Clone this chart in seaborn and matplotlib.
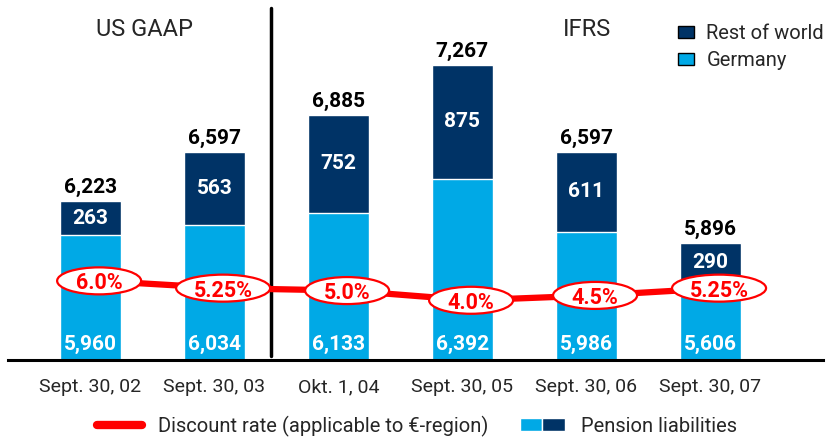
import numpy as np
import pandas as pd
import seaborn as sns
import matplotlib.pyplot as plt
from matplotlib.patches import Patch, Ellipse
from matplotlib.lines import Line2D
from matplotlib.legend_handler import HandlerTuple
import matplotlib.transforms as mtransforms

# Data
dates = ['Sept. 30, 02', 'Sept. 30, 03', 'Okt. 1, 04', 'Sept. 30, 05', 'Sept. 30, 06', 'Sept. 30, 07']
germany = [5960, 6034, 6133, 6392, 5986, 5606]
rest_of_world = [263, 563, 752, 875, 611, 290]
discount_rate = [6.0, 5.25, 5.0, 4.0, 4.5, 5.25]
rate_labels = ['6.0%', '5.25%', '5.0%', '4.0%', '4.5%', '5.25%']

light = '#00A9E6'
dark = '#003366'
red = '#FF0000'

df = pd.DataFrame({'date': dates, 'germany': germany, 'rest': rest_of_world})
df['total'] = df['germany'] + df['rest']

sns.set_style('white')
plt.rcParams['font.family'] = ['Roboto', 'DejaVu Sans']

fig = plt.figure(figsize=(8.34, 4.38), dpi=100)
ax = fig.add_axes([0.0096, 0.178, 0.977, 0.822])

# Stacked bars: total (dark) with Germany (light) drawn over it
sns.barplot(data=df, x='date', y='total', color=dark, saturation=1, width=0.49, ax=ax)
sns.barplot(data=df, x='date', y='germany', color=light, saturation=1, width=0.49, ax=ax)

ax.set_ylim(5000, 7767)
ax.set_xlim(-0.665, 5.907)
ax.set_xlabel('')
ax.set_ylabel('')
ax.set_yticks([])
for s in ['top', 'right', 'left']:
    ax.spines[s].set_visible(False)
ax.spines['bottom'].set_color('black')
ax.spines['bottom'].set_linewidth(2.2)
ax.tick_params(axis='x', length=0, pad=13, labelsize=14)

# Value labels
bottom_trans = mtransforms.blended_transform_factory(ax.transData, ax.transAxes)
for i, row in df.iterrows():
    ax.annotate(f"{row['total']:,}", (i, row['total']), xytext=(0, 3), textcoords='offset points',
                ha='center', va='bottom', fontsize=15, fontweight='bold', color='black')
    ax.text(i, (row['germany'] + row['total']) / 2, f"{row['rest']:,}", ha='center', va='center',
            fontsize=15, fontweight='bold', color='white')
    ax.text(i, 0.042, f"{row['germany']:,}", transform=bottom_trans, ha='center', va='center',
            fontsize=15, fontweight='bold', color='white')

# US GAAP / IFRS separator
ax.axvline(1.46, ymin=0.011, ymax=0.978, color='black', lw=2.5)
fig.text(145 / 834, 1 - 30 / 438, 'US GAAP', ha='center', va='center', fontsize=17)
fig.text(587 / 834, 1 - 30 / 438, 'IFRS', ha='center', va='center', fontsize=17)

# Discount rate line with flat ellipse labels
ax2 = ax.twinx()
xs = np.arange(len(dates)) + 0.07
sns.lineplot(x=xs, y=discount_rate, ax=ax2, color=red, lw=4.5)
for x, r, lab in zip(xs, discount_rate, rate_labels):
    w = 0.84 if len(lab) == 4 else 0.94
    tr = fig.dpi_scale_trans + mtransforms.ScaledTranslation(x, r, ax2.transData)
    ell = Ellipse((0, 0), w, 0.27, transform=tr, facecolor='white', edgecolor=red, lw=1.6,
                  zorder=3, clip_on=False)
    ax2.add_artist(ell)
    ax2.text(x, r, lab, ha='center', va='center_baseline', fontsize=15.5, fontweight='bold',
             color=red, zorder=4)
ax2.set_ylim(-2.16, 34.95)
ax2.set_yticks([])
for s in ax2.spines.values():
    s.set_visible(False)

# Top legend
top_handles = [Patch(facecolor=dark, edgecolor='black', lw=1),
               Patch(facecolor=light, edgecolor='black', lw=1)]
fig.legend(top_handles, ['Rest of world', 'Germany'], loc='upper left',
           bbox_to_anchor=(660 / 834, 1 - 6 / 438), frameon=False, fontsize=14.5,
           handlelength=0.8, handleheight=0.55, handletextpad=0.6, labelspacing=0.4)

# Bottom legend
bottom_handles = [Line2D([0], [0], color=red, lw=6),
                  (Patch(facecolor=light), Patch(facecolor=dark))]
fig.legend(bottom_handles, ['Discount rate (applicable to \u20ac-region)', 'Pension liabilities'],
           loc='center', bbox_to_anchor=(0.5, 1 - 426 / 438), ncol=2, frameon=False, fontsize=14.5,
           handlelength=2.2, handleheight=0.6, columnspacing=1.6,
           handler_map={tuple: HandlerTuple(ndivide=None, pad=0)})

fig.savefig('out.png', dpi=100)
